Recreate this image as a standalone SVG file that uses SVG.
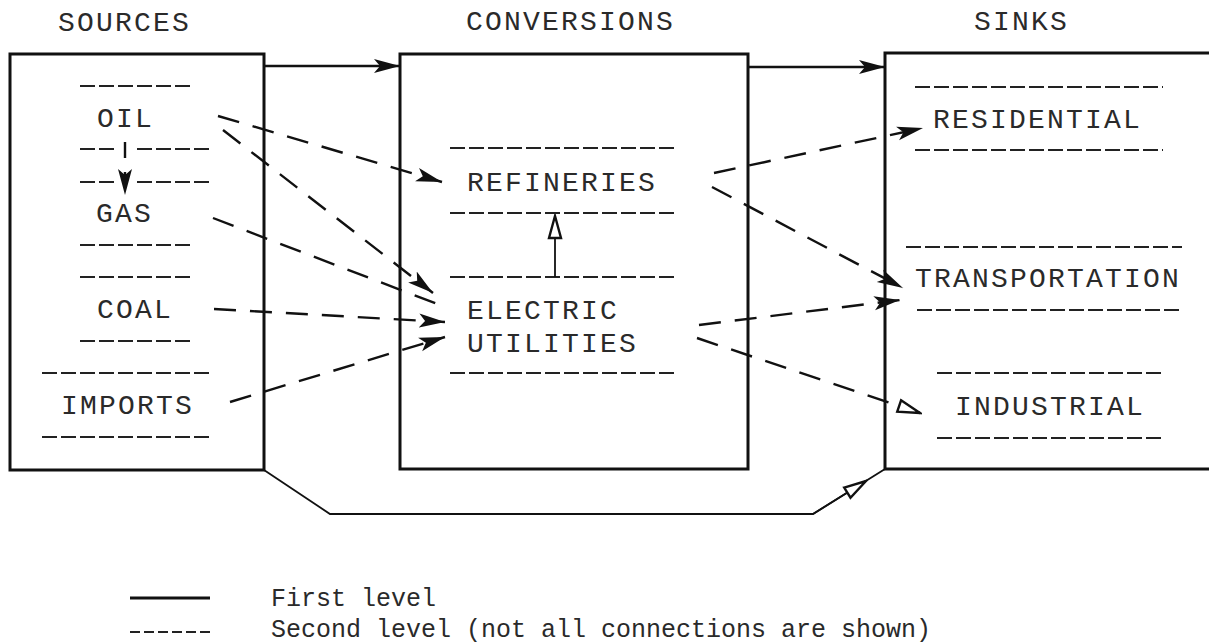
<svg xmlns="http://www.w3.org/2000/svg" width="1209" height="644" viewBox="0 0 1209 644">
<style>
.lbl{font-family:"Liberation Mono","DejaVu Sans Mono",monospace;font-size:28px;letter-spacing:2.2px;fill:#2a2a2a}
.leg{font-family:"Liberation Mono","DejaVu Sans Mono",monospace;font-size:25px;fill:#2a2a2a}
.box{fill:none;stroke:#111;stroke-width:3;stroke-linejoin:miter}
.sep{fill:none;stroke:#222;stroke-width:2.2;stroke-dasharray:15 4}
.first{fill:none;stroke:#111;stroke-width:2.6}
.thin{fill:none;stroke:#111;stroke-width:1.8}
.second{fill:none;stroke:#111;stroke-width:2.4;stroke-dasharray:22 14}
</style>
<defs>
<marker id="ah" markerUnits="userSpaceOnUse" viewBox="0 0 26 16" refX="26" refY="8" markerWidth="26" markerHeight="16" orient="auto">
<path d="M0,1 L26,8 L0,15 L6,8 z" fill="#111" stroke="none" stroke-dasharray="none"/>
</marker>
<marker id="ahOpen" markerUnits="userSpaceOnUse" viewBox="0 0 26 16" refX="24" refY="8" markerWidth="26" markerHeight="16" orient="auto">
<path d="M2,2 L24,8 L2,14 z" fill="#fff" stroke="#111" stroke-width="2.4" stroke-dasharray="none"/>
</marker>
</defs>
<rect width="1209" height="644" fill="#fff"/>

<g id="headers">
<text class="lbl" x="58" y="31">SOURCES</text>
<text class="lbl" x="466" y="30">CONVERSIONS</text>
<text class="lbl" x="974" y="30">SINKS</text>
</g>

<g id="sources">
<rect class="box" x="10" y="54" width="254" height="416"/>
<line class="sep" x1="80" y1="86" x2="193" y2="86"/>
<text class="lbl" x="97" y="127">OIL</text>
<line class="sep" x1="80" y1="149" x2="115" y2="149"/>
<line class="sep" x1="137" y1="149" x2="212" y2="149"/>
<line class="sep" x1="80" y1="182" x2="115" y2="182"/>
<line class="sep" x1="137" y1="182" x2="212" y2="182"/>
<text class="lbl" x="96" y="222">GAS</text>
<line class="sep" x1="80" y1="245" x2="193" y2="245"/>
<line class="sep" x1="80" y1="277" x2="193" y2="277"/>
<text class="lbl" x="97" y="318">COAL</text>
<line class="sep" x1="80" y1="341" x2="193" y2="341"/>
<line class="sep" x1="42" y1="373" x2="212" y2="373"/>
<text class="lbl" x="61" y="414">IMPORTS</text>
<line class="sep" x1="42" y1="437" x2="212" y2="437"/>
</g>

<g id="conversions">
<rect class="box" x="400" y="54" width="348" height="415"/>
<line class="sep" x1="450" y1="148" x2="678" y2="148"/>
<text class="lbl" x="467" y="191">REFINERIES</text>
<line class="sep" x1="450" y1="213" x2="678" y2="213"/>
<line class="sep" x1="450" y1="277" x2="678" y2="277"/>
<text class="lbl" x="467" y="319">ELECTRIC</text>
<text class="lbl" x="467" y="352">UTILITIES</text>
<line class="sep" x1="450" y1="373" x2="678" y2="373"/>
</g>

<g id="sinks">
<path class="box" d="M1209,53 H885 V469 H1209"/>
<line class="sep" x1="915" y1="87" x2="1163" y2="87"/>
<text class="lbl" x="933" y="128">RESIDENTIAL</text>
<line class="sep" x1="915" y1="150" x2="1163" y2="150"/>
<line class="sep" x1="906" y1="247" x2="1182" y2="247"/>
<text class="lbl" x="915" y="287">TRANSPORTATION</text>
<line class="sep" x1="917" y1="310" x2="1182" y2="310"/>
<line class="sep" x1="937" y1="373" x2="1163" y2="373"/>
<text class="lbl" x="955" y="415">INDUSTRIAL</text>
<line class="sep" x1="937" y1="438" x2="1163" y2="438"/>
</g>

<g id="connectors">
<path class="first" d="M264,66 H400" marker-end="url(#ah)"/>
<path class="first" d="M748,67 H885" marker-end="url(#ah)"/>
<path class="thin" d="M264,470 L330,514 L813,514 L885,469"/>
<path class="thin" d="M813,514 L866,481" marker-end="url(#ahOpen)"/>
<path class="thin" d="M555,277 V216" marker-end="url(#ahOpen)"/>
<path class="second" style="stroke-dasharray:16 14" d="M125,142 V195" marker-end="url(#ah)"/>
<path class="second" d="M218,116 L442,182" marker-end="url(#ah)"/>
<path class="second" d="M223,130 L433,293" marker-end="url(#ah)"/>
<path class="second" d="M213,218 L445,307"/>
<path class="second" d="M214,309 L445,322" marker-end="url(#ah)"/>
<path class="second" d="M230,402 L445,337" marker-end="url(#ah)"/>
<path class="second" d="M714,173 L923,128" marker-end="url(#ah)"/>
<path class="second" d="M712,187 L903,288" marker-end="url(#ah)"/>
<path class="second" d="M699,325 L900,300" marker-end="url(#ah)"/>
<path class="second" d="M697,338 L920,413" marker-end="url(#ahOpen)"/>
</g>

<g id="legend">
<line class="first" x1="130" y1="598" x2="210" y2="598" style="stroke-width:3"/>
<line class="sep" x1="130" y1="632" x2="210" y2="632" style="stroke-dasharray:10 4;stroke-width:2"/>
<text class="leg" x="271" y="606">First level</text>
<text class="leg" x="271" y="637">Second level (not all connections are shown)</text>
</g>
</svg>
